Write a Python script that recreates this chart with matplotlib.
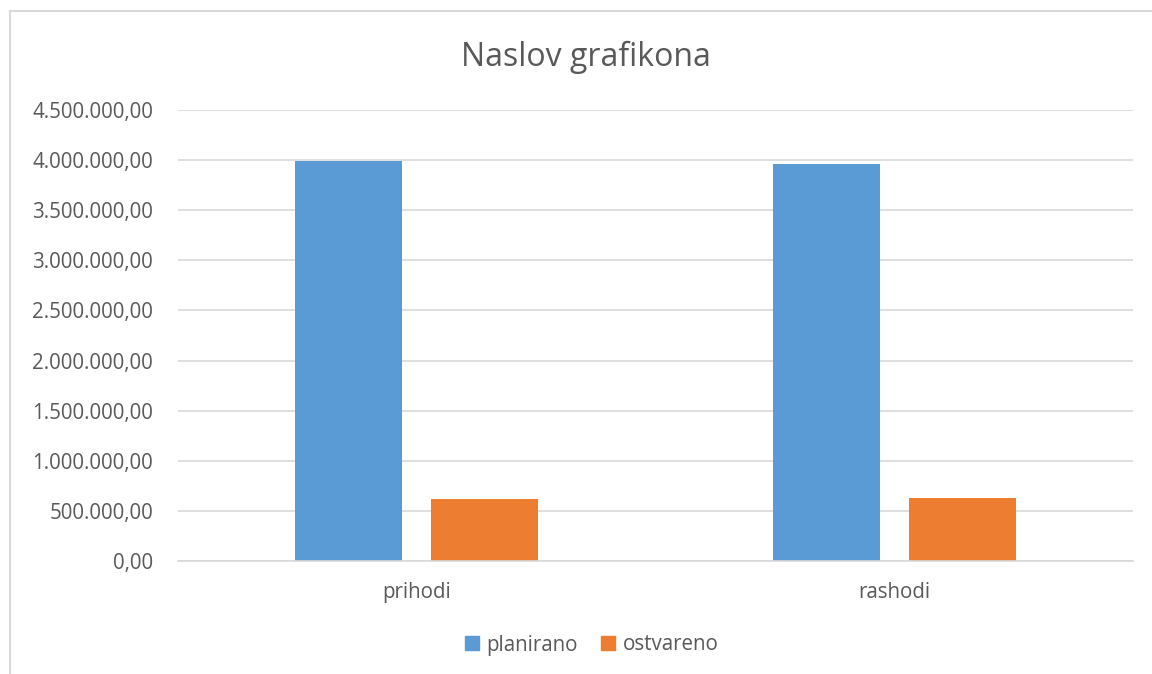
import matplotlib
matplotlib.use("Agg")
import matplotlib.pyplot as plt
from matplotlib.lines import Line2D
from matplotlib.ticker import FuncFormatter
import numpy as np

categories = ["prihodi", "rashodi"]
series_names = ["planirano", "ostvareno"]
planirano = [3987000, 3957000]
ostvareno = [617000, 624000]
colors = ["#5B9BD5", "#ED7D31"]
title = "Naslov grafikona"

FONT = ["Open Sans", "DejaVu Sans"]
TXT = "#595959"
GRID = "#D9D9D9"
FS = 14.8

fig = plt.figure(figsize=(11.52, 6.74), dpi=100)
ax = fig.add_axes([178/1152, 1-561/674, (1133-178)/1152, (561-110)/674])

x = np.arange(len(categories))
w = 107/478
off = 68/478
ax.bar(x - off, planirano, w, color=colors[0], label=series_names[0], zorder=3)
ax.bar(x + off, ostvareno, w, color=colors[1], label=series_names[1], zorder=3)

ax.set_xlim(-0.5, len(categories) - 0.5)
ax.set_ylim(0, 4500000)
ax.set_yticks(np.arange(0, 4500001, 500000))

def fmt(v, pos):
    s = f"{v:,.2f}"
    return s.replace(",", "X").replace(".", ",").replace("X", ".")
ax.yaxis.set_major_formatter(FuncFormatter(fmt))
ax.set_xticks(x)
ax.set_xticklabels(categories)

for sp in ["top", "right", "left"]:
    ax.spines[sp].set_visible(False)
ax.spines["bottom"].set_color(GRID)
ax.spines["bottom"].set_linewidth(1.2)
ax.spines["bottom"].set_zorder(4)
ax.yaxis.grid(True, color=GRID, linewidth=1.2, zorder=0)
ax.tick_params(axis="both", length=0, colors=TXT, labelsize=FS)
ax.tick_params(axis="y", pad=18)
ax.tick_params(axis="x", pad=15)
for lab in ax.get_xticklabels() + ax.get_yticklabels():
    lab.set_family(FONT)
    lab.set_color(TXT)

fig.text(586/1152, 1-57/674, title, ha="center", va="center", fontsize=23,
         color=TXT, family=FONT)

handles = [Line2D([0], [0], marker="s", linestyle="none", markersize=9.5,
                  markerfacecolor=c, markeredgecolor=c) for c in colors]
leg = fig.legend(handles, series_names, loc="center", bbox_to_anchor=(590/1152, 1-645/674),
                 ncol=2, frameon=False, prop={"family": FONT, "size": FS},
                 handletextpad=0.2, columnspacing=1.0, handlelength=1.0)
for t in leg.get_texts():
    t.set_color(TXT)

# outer chart border
fig.add_artist(Line2D([10/1152, 1], [1-11/674, 1-11/674], color=GRID, linewidth=1.5,
                      transform=fig.transFigure))
fig.add_artist(Line2D([10/1152, 10/1152], [0, 1-11/674], color=GRID, linewidth=1.5,
                      transform=fig.transFigure))

fig.savefig("out.png", dpi=100, facecolor="white")
